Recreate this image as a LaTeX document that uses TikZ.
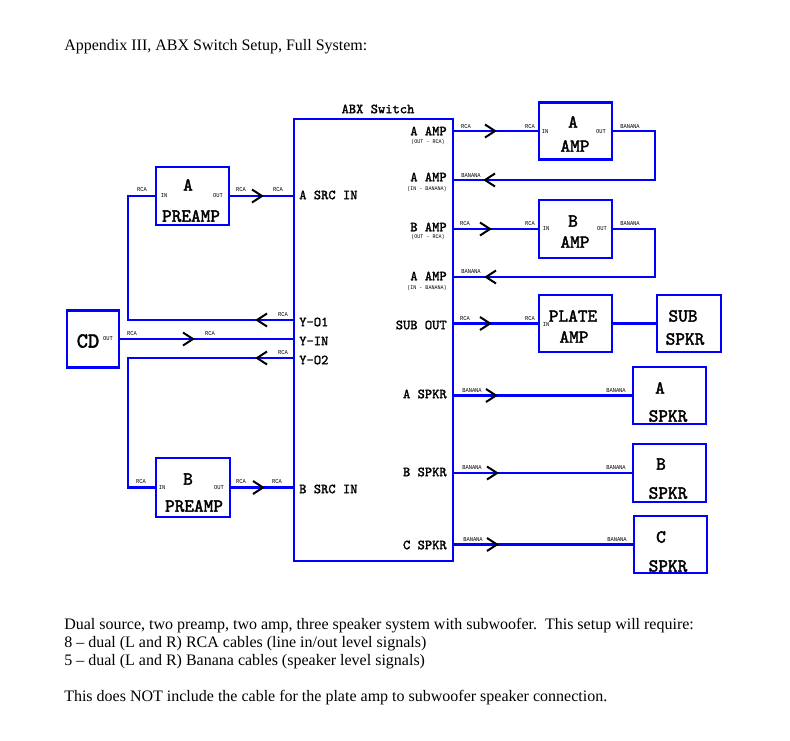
\documentclass[tikz,border=0pt]{standalone}
\usepackage{fontspec}
\setmainfont{Liberation Serif}
\newfontfamily\tyfont{Liberation Mono}[FakeStretch=0.9]
\newfontfamily\bxfont{lmmono10-regular.otf}[FakeBold=2.2]
\newfontfamily\swfont{lmmono10-regular.otf}[FakeBold=1.6]
\begin{document}
\begin{tikzpicture}[x=0.75pt,y=-0.75pt,
 wire/.style={draw=blue,line width=2.2pt},
 bx/.style 2 args={draw=blue,line width=2.2pt,minimum width=#1*0.75pt,minimum height=#2*0.75pt,inner sep=0pt,fill=white},
 chev/.style={draw=black,line width=1.5pt,line join=miter},
 chevR/.pic={\draw[chev] (-10,-6.5) -- (0,0) -- (-10,6.5);},
 chevL/.pic={\draw[chev] (10,-6.5) -- (0,0) -- (10,6.5);},
 txt/.style={inner sep=0pt,anchor=west,font=\fontsize{12}{14}\selectfont},
 swl/.style={inner sep=0pt,font=\swfont\fontsize{10.4}{12}\selectfont},
 bl/.style={inner sep=0pt,font=\bxfont\fontsize{13.8}{16}\selectfont},
 ty/.style={inner sep=0pt,font=\tyfont\fontsize{4.5}{5}\selectfont},
 tys/.style={inner sep=0pt,font=\tyfont\fontsize{4.2}{5}\selectfont},
]
\useasboundingbox (0,0) rectangle (790,740);
\fill[white] (0,0) rectangle (790,740);

% boxes
\node[bx={159}{442}] (sw) at (373.5,340) {};
\node[bx={73}{58}] (preA) at (192.5,196) {};
\node[bx={74}{59}] (preB) at (193,487.5) {};
\node[bx={52}{57}] (cd) at (93,339) {};
\node[bx={73}{57}] (ampA) at (575.5,131) {};
\node[bx={73}{58}] (ampB) at (575.5,229) {};
\node[bx={73}{57}] (plate) at (575.5,323.5) {};
\node[bx={64}{57}] (sub) at (689,323.5) {};
\node[bx={73}{57}] (spkA) at (669.5,395.5) {};
\node[bx={73}{58}] (spkB) at (669.5,473) {};
\node[bx={73}{57}] (spkC) at (670.5,544.5) {};

% ports and bends
\coordinate (yo1) at (sw.west |- 0,320);
\coordinate (yo2) at (sw.west |- 0,358);
\coordinate (jA) at (128,196);
\coordinate (jB) at (128,487.5);
\coordinate (retA) at (655,180);
\coordinate (retB) at (655,277);
\coordinate (ainA) at (sw.east |- 0,180);
\coordinate (ainB) at (sw.east |- 0,277);

% connectors
\draw[wire] (preA.east) -- (preA.east -| sw.west);
\draw[wire] (preB.east) -- (preB.east -| sw.west);
\draw[wire] (cd.east) -- (cd.east -| sw.west);
\draw[wire] (yo1) -| (jA) -- (preA.west);
\draw[wire] (yo2) -| (jB) -- (preB.west);
\draw[wire] (sw.east |- ampA.west) -- (ampA.west);
\draw[wire] (ampA.east) -| (retA) -- (ainA);
\draw[wire] (sw.east |- ampB.west) -- (ampB.west);
\draw[wire] (ampB.east) -| (retB) -- (ainB);
\draw[wire] (sw.east |- plate.west) -- (plate.west);
\draw[wire] (plate.east) -- (sub.west);
\draw[wire] (sw.east |- spkA.west) -- (spkA.west);
\draw[wire] (sw.east |- spkB.west) -- (spkB.west);
\draw[wire] (sw.east |- spkC.west) -- (spkC.west);

% chevrons
\pic at (495,131) {chevR};
\pic at (485,180) {chevL};
\pic at (490,229) {chevR};
\pic at (486,277) {chevL};
\pic at (490,323.5) {chevR};
\pic at (496,395.5) {chevR};
\pic at (497,473) {chevR};
\pic at (497,544.5) {chevR};
\pic at (262,196) {chevR};
\pic at (193,339) {chevR};
\pic at (263,487.5) {chevR};
\pic at (257,320) {chevL};
\pic at (257,358) {chevL};

% title and notes
\node[txt] (title) at (64,47) {Appendix III, ABX Switch Setup, Full System:};
\node[txt] (n1) at (64,626) {Dual source, two preamp, two amp, three speaker system with subwoofer.\ \ This setup will require:};
\node[txt] (n2) at (64,644) {8 – dual (L and R) RCA cables (line in/out level signals)};
\node[txt] (n3) at (64,662) {5 – dual (L and R) Banana cables (speaker level signals)};
\node[txt] (n4) at (64,698) {This does NOT include the cable for the plate amp to subwoofer speaker connection.};

% switch labels
\node[swl] (swt) at (378,109) {ABX Switch};
\node[swl,anchor=east] (pA1) at (447,131) {A AMP};
\node[tys] (pA1s) at (428,142) {(OUT - RCA)};
\node[swl,anchor=east] (pA2) at (447,177) {A AMP};
\node[tys] (pA2s) at (427,189) {(IN - BANANA)};
\node[swl,anchor=east] (pB1) at (447,227) {B AMP};
\node[tys] (pB1s) at (428,237.5) {(OUT - RCA)};
\node[swl,anchor=east] (pB2) at (447,276) {A AMP};
\node[tys] (pB2s) at (427,288) {(IN - BANANA)};
\node[swl,anchor=east] (pSub) at (447,325) {SUB OUT};
\node[swl,anchor=east] (pSA) at (447,394) {A SPKR};
\node[swl,anchor=east] (pSB) at (447,472) {B SPKR};
\node[swl,anchor=east] (pSC) at (447,545) {C SPKR};
\node[swl,anchor=west] (pAsrc) at (299,195) {A SRC IN};
\node[swl,anchor=west] (pY1) at (299,322) {Y-O1};
\node[swl,anchor=west] (pYin) at (299,341) {Y-IN};
\node[swl,anchor=west] (pY2) at (299,360) {Y-O2};
\node[swl,anchor=west] (pBsrc) at (299,489) {B SRC IN};

% box labels
\node[bl] (preAt) at (188,185) {A};
\node[bl] (preAb) at (191,216) {PREAMP};
\node[bl] (preBt) at (188,479) {B};
\node[bl] (preBb) at (194,506) {PREAMP};
\node[bl,font=\bxfont\fontsize{16}{18}\selectfont] (cdt) at (88,341) {CD};
\node[bl] (ampAt) at (573,122) {A};
\node[bl] (ampAb) at (575,146) {AMP};
\node[bl] (ampBt) at (573,221) {B};
\node[bl] (ampBb) at (575,242) {AMP};
\node[bl] (platet) at (573,316) {PLATE};
\node[bl] (plateb) at (574,337) {AMP};
\node[bl] (subt) at (683,316) {SUB};
\node[bl] (subb) at (685,339) {SPKR};
\node[bl] (spkAt) at (660,388) {A};
\node[bl] (spkAb) at (668,416) {SPKR};
\node[bl] (spkBt) at (661,464) {B};
\node[bl] (spkBb) at (668,493) {SPKR};
\node[bl] (spkCt) at (661,537) {C};
\node[bl] (spkCb) at (668,566) {SPKR};

% small connector labels
\node[ty] (l1) at (142,190) {RCA};
\node[ty] (l2) at (164,196) {IN};
\node[ty] (l3) at (218,196) {OUT};
\node[ty] (l4) at (241,190) {RCA};
\node[ty] (l5) at (278,190) {RCA};
\node[ty] (l6) at (108,339) {OUT};
\node[ty] (l7) at (132,334) {RCA};
\node[ty] (l8) at (210,334) {RCA};
\node[ty] (l9) at (283,315) {RCA};
\node[ty] (l10) at (283,353) {RCA};
\node[ty] (l11) at (141,482) {RCA};
\node[ty] (l12) at (162,488) {IN};
\node[ty] (l13) at (219,488) {OUT};
\node[ty] (l14) at (241,482) {RCA};
\node[ty] (l15) at (277,482) {RCA};
\node[ty] (l16) at (466,127) {RCA};
\node[ty] (l17) at (530,127) {RCA};
\node[ty] (l18) at (545,132) {IN};
\node[ty] (l19) at (601,132) {OUT};
\node[ty] (l20) at (630,127) {BANANA};
\node[ty] (l21) at (471,176) {BANANA};
\node[ty] (l22) at (465,224) {RCA};
\node[ty] (l23) at (530,224) {RCA};
\node[ty] (l24) at (546,229) {IN};
\node[ty] (l25) at (602,229) {OUT};
\node[ty] (l26) at (630,224) {BANANA};
\node[ty] (l27) at (471,272) {BANANA};
\node[ty] (l28) at (465,319) {RCA};
\node[ty] (l29) at (530,319) {RCA};
\node[ty] (l30) at (546,325) {IN};
\node[ty] (l31) at (472,391) {BANANA};
\node[ty] (l32) at (616,391) {BANANA};
\node[ty] (l33) at (472,468) {BANANA};
\node[ty] (l34) at (616,468) {BANANA};
\node[ty] (l35) at (473,540) {BANANA};
\node[ty] (l36) at (617,540) {BANANA};
\end{tikzpicture}
\end{document}
